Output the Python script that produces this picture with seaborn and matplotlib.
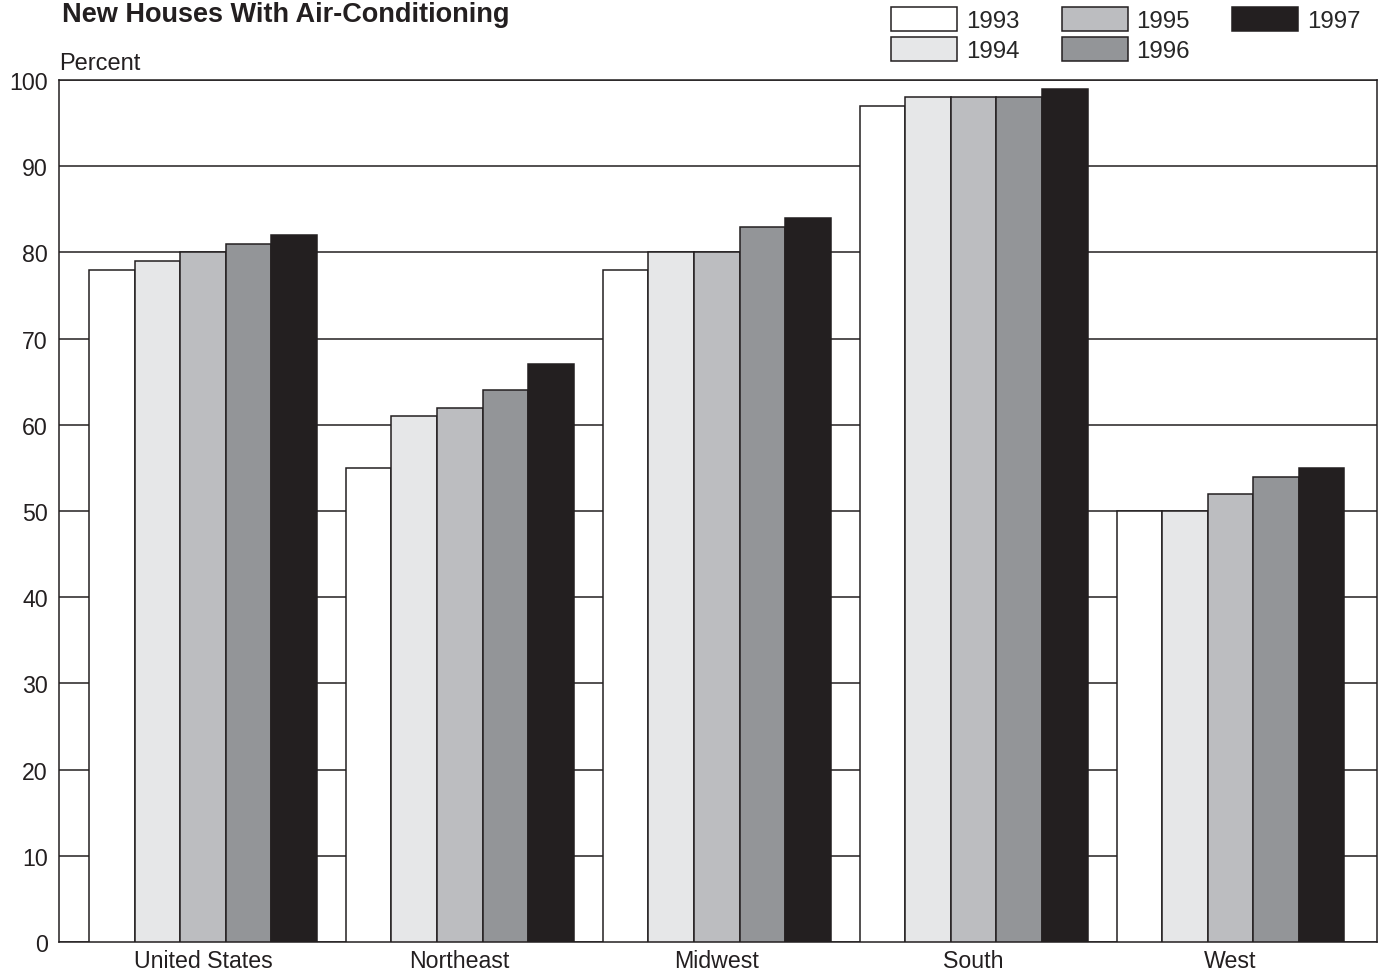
import pandas as pd
import seaborn as sns
import matplotlib.pyplot as plt

# dados
regioes = ['United States', 'Northeast', 'Midwest', 'South', 'West']
anos = ['1993', '1994', '1995', '1996', '1997']
v1993 = [78, 55, 78, 97, 50]
v1994 = [79, 61, 80, 98, 50]
v1995 = [80, 62, 80, 98, 52]
v1996 = [81, 64, 83, 98, 54]
v1997 = [82, 67, 84, 99, 55]
cores = ['#ffffff', '#e6e7e8', '#bcbdc0', '#939598', '#231f20']

valores = [v1993, v1994, v1995, v1996, v1997]
linhas = []
for ano, vals in zip(anos, valores):
    for reg, v in zip(regioes, vals):
        linhas.append({'Regiao': reg, 'Ano': ano, 'Percent': v})
df = pd.DataFrame(linhas)

sns.set_style('white')
plt.rcParams['font.family'] = ['Liberation Sans', 'DejaVu Sans']

fig = plt.figure(figsize=(13.82, 9.79), dpi=100)
ax = fig.add_axes([59/1382, 36/979, 1318/1382, 862/979])

sns.barplot(data=df, x='Regiao', y='Percent', hue='Ano', order=regioes, hue_order=anos,
            palette=cores, width=0.887, edgecolor='#231f20', linewidth=1.1,
            saturation=1, ax=ax, zorder=3)

ax.set_ylim(0, 100)
ax.set_xlim(-0.56, 4.57)
ax.set_yticks(range(0, 101, 10))
ax.yaxis.grid(True, color='#231f20', linewidth=1.1)
ax.set_axisbelow(True)
ax.tick_params(length=0, labelsize=16.7, colors='#231f20')
ax.tick_params(axis='y', pad=8)
ax.tick_params(axis='x', pad=5)
ax.set_xlabel('')
ax.set_ylabel('')
for s in ax.spines.values():
    s.set_color('#231f20')
    s.set_linewidth(1.1)

fig.text(62/1382, 1 - 15/979, 'New Houses With Air-Conditioning', fontsize=19.5,
         fontweight='bold', color='#231f20', va='center', ha='left')
fig.text(59/1382, 1 - 64/979, 'Percent', fontsize=17, color='#231f20', va='center', ha='left')

sns.move_legend(ax, loc='upper left', bbox_to_anchor=(891/1382, 1 - 8/979),
                bbox_transform=fig.transFigure, ncol=3, frameon=False, title=None,
                fontsize=17.3, handlelength=2.75, handleheight=1.15, handletextpad=0.37,
                columnspacing=1.75, labelspacing=0.2, borderpad=0, borderaxespad=0)

fig.savefig('out.png', dpi=100)
